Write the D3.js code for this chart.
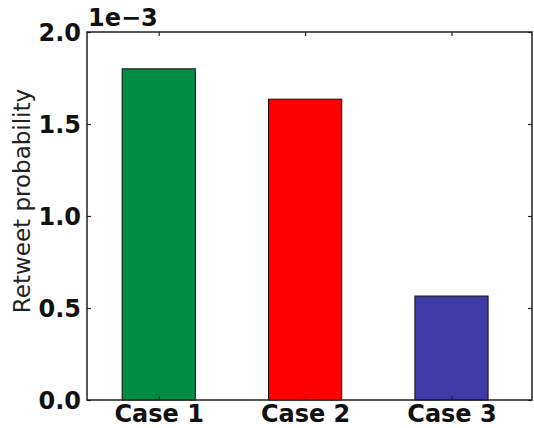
<!DOCTYPE html>
<html>
<head>
<meta charset="utf-8">
<script src="https://cdn.jsdelivr.net/npm/d3@7"></script>
<style>
  html, body { margin: 0; padding: 0; background: #fff; }
  svg { display: block; }
</style>
</head>
<body>
<svg id="chart" width="534" height="428"></svg>
<script>
// Retweet probability for each case (in units of 1e-3)
const categories = ["Case 1", "Case 2", "Case 3"];
const positions = [1, 2, 3];
const values = [1.80, 1.635, 0.565];
const colors = ["#008c44", "#ff0000", "#4039a8"];
const yTicks = [0.0, 0.5, 1.0, 1.5, 2.0];
const yLabel = "Retweet probability";
const offsetLabel = "1e\u22123";

const svg = d3.select("#chart");
const plotLeft = 87, plotRight = 532, plotTop = 32, plotBottom = 400;

const x = d3.scaleLinear().domain([0.51, 3.55]).range([plotLeft, plotRight]);
const y = d3.scaleLinear().domain([0, 2.0]).range([plotBottom, plotTop]);
const barWidth = 0.5;

// bars
svg.append("g")
  .selectAll("rect")
  .data(values)
  .join("rect")
  .attr("x", (d, i) => x(positions[i] - barWidth / 2))
  .attr("width", (d, i) => x(positions[i] + barWidth / 2) - x(positions[i] - barWidth / 2))
  .attr("y", d => y(d))
  .attr("height", d => y(0) - y(d))
  .attr("fill", (d, i) => colors[i])
  .attr("stroke", "#111")
  .attr("stroke-width", 1);

const tickFont = "'DejaVu Sans', sans-serif";

// left axis with inward ticks
const yAxisL = svg.append("g")
  .attr("transform", `translate(${plotLeft},0)`)
  .call(d3.axisLeft(y).tickValues(yTicks).tickFormat(d3.format(".1f")).tickSizeInner(-4).tickSizeOuter(0).tickPadding(6));
// right axis, ticks only
const yAxisR = svg.append("g")
  .attr("transform", `translate(${plotRight},0)`)
  .call(d3.axisRight(y).tickValues(yTicks).tickFormat("").tickSizeInner(-4).tickSizeOuter(0));
// bottom axis with inward ticks
const xAxisB = svg.append("g")
  .attr("transform", `translate(0,${plotBottom})`)
  .call(d3.axisBottom(x).tickValues(positions).tickFormat((d, i) => categories[i]).tickSizeInner(-4).tickSizeOuter(0).tickPadding(5));
// top axis, ticks only
const xAxisT = svg.append("g")
  .attr("transform", `translate(0,${plotTop})`)
  .call(d3.axisTop(x).tickValues(positions).tickFormat("").tickSizeInner(-4).tickSizeOuter(0));

[yAxisL, yAxisR, xAxisB, xAxisT].forEach(g => {
  g.select(".domain").remove();
  g.selectAll(".tick line").attr("stroke", "#222").attr("stroke-width", 1.2);
  g.selectAll(".tick text")
    .attr("fill", "#111")
    .style("font-family", tickFont)
    .style("font-weight", "bold")
    .style("font-size", "24px");
});
yAxisL.selectAll(".tick text").attr("dy", "0.36em");

// frame
svg.append("rect")
  .attr("x", plotLeft).attr("y", plotTop)
  .attr("width", plotRight - plotLeft).attr("height", plotBottom - plotTop)
  .attr("fill", "none")
  .attr("stroke", "#222")
  .attr("stroke-width", 1.5);

// offset label above the y axis
svg.append("text")
  .attr("x", plotLeft + 1)
  .attr("y", plotTop - 6)
  .attr("fill", "#111")
  .style("font-family", tickFont)
  .style("font-weight", "bold")
  .style("font-size", "24px")
  .text(offsetLabel);

// y axis title
svg.append("text")
  .attr("transform", `translate(30,${(87 + 315) / 2}) rotate(-90)`)
  .attr("text-anchor", "middle")
  .attr("fill", "#222")
  .style("font-family", tickFont)
  .style("font-size", "23px")
  .text(yLabel);
</script>
</body>
</html>
